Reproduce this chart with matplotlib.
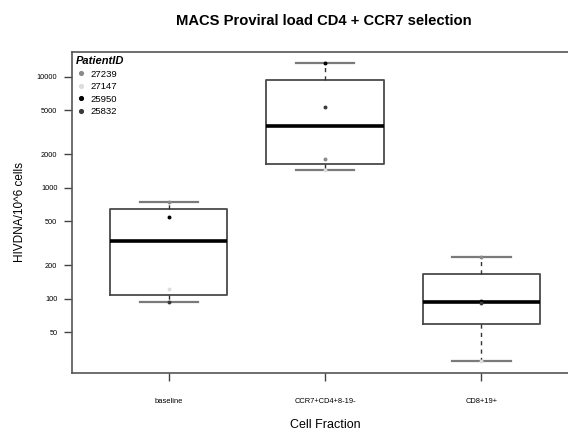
import numpy as np
import matplotlib
matplotlib.use("Agg")
import matplotlib.pyplot as plt
from matplotlib.lines import Line2D

plt.rcParams['font.family'] = ['Liberation Sans', 'DejaVu Sans']

fractions = ['baseline', 'CCR7+CD4+8-19-', 'CD8+19+']
patients = ['27239', '27147', '25950', '25832']
patient_colors = ['#8a8a8a', '#dcdcdc', '#000000', '#3a3a3a']

# HIV DNA per 10^6 cells, one value per fraction for each patient
p27239 = [738, 1803, 237]
p27147 = [122, 1435, 27.6]
p25950 = [541, 13280, 96]
p25832 = [94, 5370, 91]
values = [p27239, p27147, p25950, p25832]

yticks = [50, 100, 200, 500, 1000, 2000, 5000, 10000]


def fivenum(x):
    # Tukey hinges, like R's boxplot
    x = np.sort(np.asarray(x, dtype=float))
    n = len(x)
    n4 = np.floor((n + 3) / 2) / 2
    d = np.array([1, n4, (n + 1) / 2, n + 1 - n4, n]) - 1
    return 0.5 * (x[np.floor(d).astype(int)] + x[np.ceil(d).astype(int)])


fig = plt.figure(figsize=(5.68, 4.33), dpi=100)
ax = fig.add_axes([0.1268, 0.1393, 0.891, 0.7413])

stats = []
for i, name in enumerate(fractions):
    col = [v[i] for v in values]
    lo, q1, med, q3, hi = fivenum(col)
    stats.append(dict(whislo=lo, q1=q1, med=med, q3=q3, whishi=hi, fliers=[], label=name))

ax.bxp(stats, positions=[1, 2, 3], widths=0.75, showfliers=False,
       boxprops=dict(color='#4a4a4a', linewidth=1.3),
       whiskerprops=dict(color='#333333', linewidth=1.0, linestyle=(0, (3, 3))),
       capprops=dict(color='#7a7a7a', linewidth=1.6),
       medianprops=dict(color='black', linewidth=2.6),
       capwidths=0.375)

for vals, c in zip(values, patient_colors):
    ax.scatter([1, 2, 3], vals, s=8, color=c, zorder=5, linewidths=0)

ax.set_yscale('log')
ax.set_ylim(10 ** 1.333, 10 ** 4.225)
ax.set_xlim(0.38, 3.62)
ax.set_yticks(yticks)
ax.set_yticklabels([str(t) for t in yticks])
ax.minorticks_off()
ax.set_xticks([1, 2, 3])
ax.set_xticklabels(fractions)

ax.tick_params(axis='y', length=5.5, width=1.0, color='#444444', labelsize=5.3, pad=5)
ax.tick_params(axis='x', length=6, width=1.0, color='#444444', labelsize=5.4, pad=12)
for s in ['left', 'bottom', 'top']:
    ax.spines[s].set_color('#555555')
    ax.spines[s].set_linewidth(1.2)
ax.spines['right'].set_visible(False)

ax.set_ylabel('HIVDNA/10^6 cells', fontsize=8.5, labelpad=8)
ax.set_xlabel('Cell Fraction', fontsize=9, labelpad=10)
fig.text(0.570, 0.951, 'MACS Proviral load CD4 + CCR7 selection', ha='center', va='center',
         fontsize=10.6, fontweight='bold')

handles = [Line2D([], [], marker='o', linestyle='none', markersize=2.7,
                  markerfacecolor=c, markeredgecolor=c) for c in patient_colors]
leg = ax.legend(handles, patients, title='PatientID', loc='upper left',
                bbox_to_anchor=(0.0, 1.0), frameon=False, fontsize=6.8,
                title_fontproperties={'weight': 'bold', 'style': 'italic', 'size': 8.0},
                alignment='left', handlelength=0.9, handletextpad=0.6,
                labelspacing=0.38, borderaxespad=0.2, borderpad=0.25)

fig.savefig('out.png', dpi=100)
